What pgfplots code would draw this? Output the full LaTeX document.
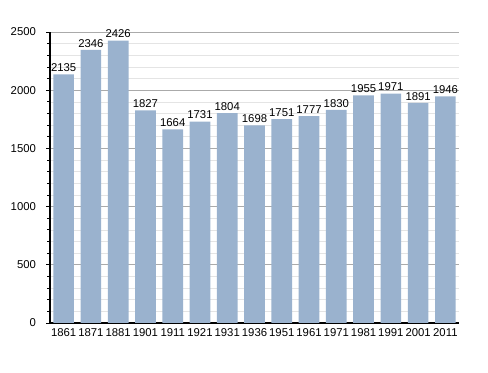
\documentclass[border=0pt]{standalone}
\usepackage{pgfplots}
\pgfplotsset{compat=1.18}
\usepackage{fontspec}
\setmainfont{Liberation Sans}
\definecolor{barc}{RGB}{154,178,206}
\definecolor{majg}{RGB}{170,170,170}
\definecolor{ming}{RGB}{228,228,228}
\begin{document}
\begin{tikzpicture}
\useasboundingbox (-37.5pt,-37.5pt) rectangle (328.5pt,242.25pt);
\begin{axis}[
  at={(0,0)}, anchor=south west,
  scale only axis, width=306.75pt, height=218.25pt,
  xmin=-0.5, xmax=14.5, ymin=0, ymax=2500,
  axis x line*=bottom, axis y line*=left,
  axis line style={black, line width=0.9pt},
  ytick={0,500,...,2500},
  minor y tick num=4,
  xtick=data,
  xticklabels={1861,1871,1881,1901,1911,1921,1931,1936,1951,1961,1971,1981,1991,2001,2011},
  x tick style={draw=none},
  y tick style={black, line width=0.6pt},
  tick align=outside,
  major tick length=3pt, minor tick length=2pt,
  ymajorgrids, yminorgrids,
  major grid style={majg, line width=0.6pt},
  minor grid style={ming, line width=0.5pt},
  tick label style={font=\fontsize{8.5}{10}\selectfont},
  /pgf/number format/assume math mode=true,
  /pgf/number format/1000 sep={},
  yticklabel style={xshift=-4pt},
  xticklabel style={yshift=2.5pt},
  axis on top=false,
  clip=false,
]
\addplot[ybar, bar width=15.5pt, fill=barc, draw=none,
  nodes near coords,
  every node near coord/.append style={font=\fontsize{8.5}{10}\selectfont, black, yshift=-1.5pt, /pgf/number format/1000 sep={}, /pgf/number format/assume math mode=true}]
coordinates {
(0,2135) (1,2346) (2,2426) (3,1827) (4,1664) (5,1731) (6,1804) (7,1698)
(8,1751) (9,1777) (10,1830) (11,1955) (12,1971) (13,1891) (14,1946)
};
\end{axis}
\end{tikzpicture}
\end{document}
